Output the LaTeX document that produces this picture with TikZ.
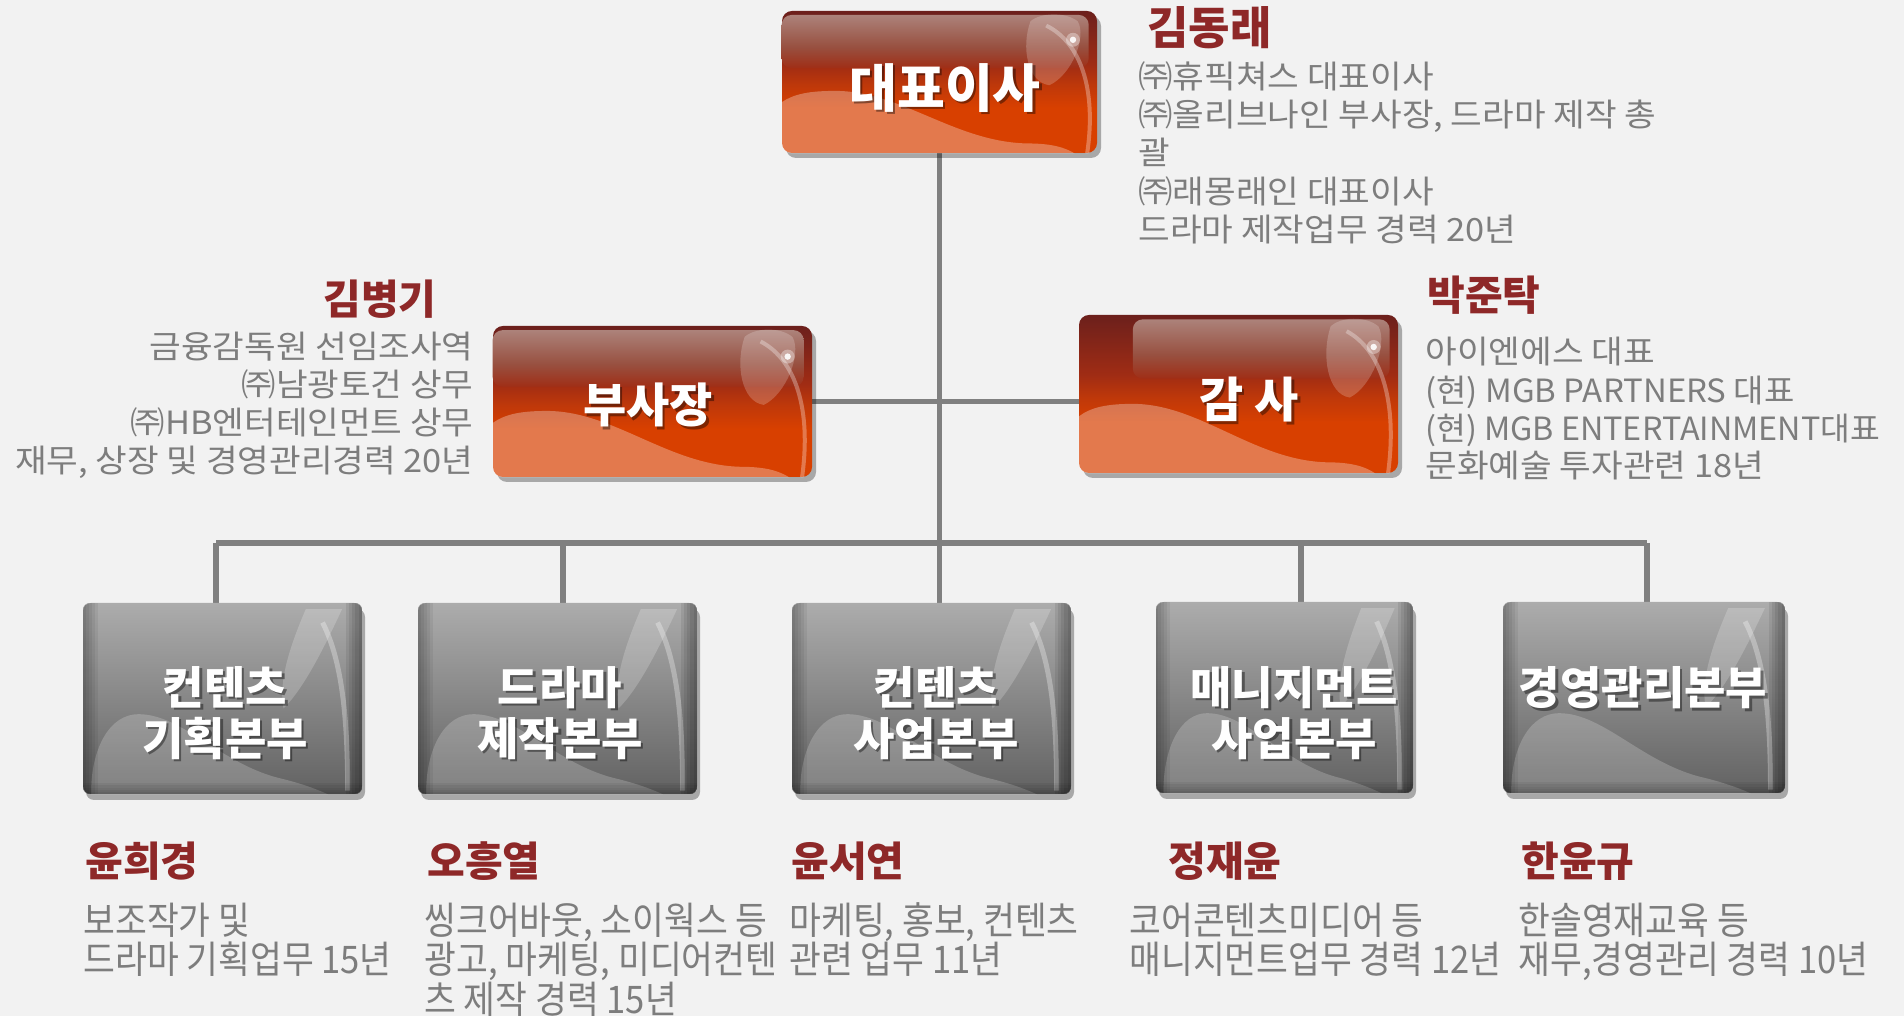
\documentclass[tikz,border=0pt]{standalone}
\usepackage{fontspec}
\usepackage{graphicx}
\setmainfont{Noto Sans CJK KR}
\usetikzlibrary{shadows,calc}

\definecolor{bgc}{RGB}{242,242,242}
\definecolor{connc}{RGB}{128,128,128}
\definecolor{namec}{RGB}{142,40,40}
\definecolor{descc}{RGB}{125,125,125}
\definecolor{rb0}{RGB}{216,64,0}
\definecolor{rb1}{RGB}{190,56,10}
\definecolor{rb2}{RGB}{160,44,20}
\definecolor{rb3}{RGB}{108,32,28}
\definecolor{gl0}{RGB}{160,46,22}
\definecolor{gl1}{RGB}{152,80,64}
\definecolor{gl2}{RGB}{172,130,122}
\definecolor{gb0}{RGB}{98,98,98}
\definecolor{gb1}{RGB}{135,135,135}
\definecolor{gb2}{RGB}{172,172,172}

\pgfdeclareverticalshading{redshade}{100bp}{color(0bp)=(rb0); color(25bp)=(rb0); color(41bp)=(rb0); color(49bp)=(rb1); color(56bp)=(rb2); color(75bp)=(rb3); color(100bp)=(rb3)}
\pgfdeclareverticalshading{glossshade}{100bp}{color(0bp)=(gl0); color(25bp)=(gl0); color(45bp)=(gl1); color(75bp)=(gl2); color(100bp)=(gl2)}
\pgfdeclareverticalshading{grayshade}{100bp}{color(0bp)=(gb0); color(25bp)=(gb0); color(50bp)=(gb1); color(75bp)=(gb2); color(100bp)=(gb2)}

\pgfdeclarelayer{bglayer}
\pgfsetlayers{bglayer,main}

\newcommand\hx[1]{\scalebox{1.075}[1]{#1}}
\newcommand\hb[1]{\scalebox{0.91}[1]{#1}}

% name, cx, cy, w, h, gloss start (fraction)
\newcommand\RedBox[6]{%
  \pgfmathsetmacro\bw{#4*0.5}\pgfmathsetmacro\bh{#5*0.5}%
  \node[redbox, minimum width=\bw pt, minimum height=\bh pt] (#1) at (#2,#3) {};
  \begin{scope}
    \clip[rounded corners=5pt] (#1.south west) rectangle (#1.north east);
    \begin{scope}[shift={(#1.south west)}, x=\bw pt, y=\bh pt]
      \shade[shading=glossshade, rounded corners=5pt] (#6,0.6) rectangle (0.975,0.975);
      \fill[white, fill opacity=0.3] (0,0) -- (0,0.36) .. controls (0.04,0.42) and (0.09,0.44) .. (0.17,0.44) .. controls (0.38,0.44) and (0.55,0.08) .. (0.78,0.07) .. controls (0.86,0.07) and (0.9,0.04) .. (0.93,0) -- cycle;
      \fill[white, fill opacity=0.2] (0.79,0.93) .. controls (0.76,0.75) and (0.78,0.5) .. (0.85,0.48) .. controls (0.92,0.55) and (0.97,0.82) .. (0.94,0.93) .. controls (0.9,1.0) and (0.82,0.99) .. cycle;
      \draw[white, opacity=0.3, line width=2pt] (0.84,0.9) .. controls (0.95,0.78) and (1.0,0.45) .. (0.97,0.0);
      \fill[white, opacity=0.35] (0.925,0.8) circle[radius=3.5pt];
      \fill[white, opacity=0.9] (0.925,0.8) circle[radius=1.6pt];
    \end{scope}
  \end{scope}}

% name, cx, cy, w, h
\newcommand\GrayBox[5]{%
  \pgfmathsetmacro\bw{#4*0.5}\pgfmathsetmacro\bh{#5*0.5}%
  \node[graybox, minimum width=\bw pt, minimum height=\bh pt] (#1) at (#2,#3) {};
  \begin{scope}
    \clip[rounded corners=4pt] (#1.south west) rectangle (#1.north east);
    \begin{scope}[shift={(#1.south west)}, x=\bw pt, y=\bh pt]
      \fill[white, fill opacity=0.2] (0.03,0) .. controls (0.03,0.25) and (0.1,0.42) .. (0.2,0.42) .. controls (0.36,0.42) and (0.5,0.15) .. (0.72,0.08) .. controls (0.8,0.05) and (0.85,0.02) .. (0.88,0) -- cycle;
      \fill[white, fill opacity=0.2] (0.8,0.97) .. controls (0.75,0.8) and (0.7,0.6) .. (0.72,0.45) .. controls (0.79,0.55) and (0.86,0.75) .. (0.93,0.97) -- cycle;
      \draw[white, opacity=0.3, line width=2.5pt] (0.86,0.9) .. controls (0.93,0.7) and (0.95,0.4) .. (0.95,0.02);
      \foreach \k in {1,...,5}{
        \fill[black, fill opacity=0.06] (0,0) rectangle (0.011*\k,1);
        \fill[black, fill opacity=0.08] (1-0.011*\k,0) rectangle (1,1);
        \fill[black, fill opacity=0.05] (0,0) rectangle (1,0.012*\k);
      }
    \end{scope}
  \end{scope}}

\newcommand\BoxText[6]{%
  \node[btxtsh, font=\bfseries\fontsize{#4pt}{#5pt}\selectfont] (#1s) at (#2+2.5,#3-2.5) {#6};
  \node[btxt, font=\bfseries\fontsize{#4pt}{#5pt}\selectfont] (#1) at (#2,#3) {#6};}

\begin{document}
\begin{tikzpicture}[x=0.5pt,y=0.5pt,
  conn/.style={draw=connc, line width=2.6pt},
  redbox/.style={rectangle, rounded corners=5pt, shade, shading=redshade, draw=none,
    drop shadow={shadow xshift=2pt, shadow yshift=-2.5pt, opacity=0.3, fill=black}},
  graybox/.style={rectangle, rounded corners=4pt, shade, shading=grayshade, draw=none,
    drop shadow={shadow xshift=1.5pt, shadow yshift=-3pt, opacity=0.3, fill=black}},
  btxt/.style={text=white, align=center, inner sep=0pt},
  btxtsh/.style={text=black, text opacity=0.4, align=center, inner sep=0pt},
  nm/.style={text=namec, font=\bfseries\fontsize{20.5pt}{22pt}\selectfont, inner sep=0pt},
  ds/.style={text=descc, font=\fontsize{16pt}{19pt}\selectfont, inner sep=0pt},
  bds/.style={text=descc, font=\fontsize{19pt}{20pt}\selectfont, inner sep=0pt, anchor=base west},
]
\useasboundingbox (0,0) rectangle (1904,1016);
\begin{pgfonlayer}{bglayer}
\fill[bgc] (0,0) rectangle (1904,1016);
\end{pgfonlayer}

% boxes
\RedBox{top}{939.5}{934}{315}{142}{0}
\RedBox{vp}{652.5}{614.5}{319}{151}{0}
\RedBox{aud}{1238.5}{622}{319}{158}{0.17}
\GrayBox{d1}{222.5}{317.5}{279}{191}
\GrayBox{d2}{557.5}{317.5}{279}{191}
\GrayBox{d3}{931.5}{317.5}{279}{191}
\GrayBox{d4}{1284.5}{318.5}{257}{191}
\GrayBox{d5}{1644}{318.5}{282}{191}

% connectors
\coordinate (b1) at (216,473);
\coordinate (b2) at (563,473);
\coordinate (b4) at (1301,473);
\coordinate (b5) at (1647,473);
\begin{pgfonlayer}{bglayer}
\draw[conn] (top.south) -- (top.south |- d3.north);
\draw[conn] (vp.east) -- (vp.east -| aud.west);
\draw[conn] (b1) -- (b5);
\draw[conn] (b1) -- (b1 |- d1.north);
\draw[conn] (b2) -- (b2 |- d2.north);
\draw[conn] (b4) -- (b4 |- d4.north);
\draw[conn] (b5) -- (b5 |- d5.north);
\end{pgfonlayer}

% box texts
\BoxText{t0}{945}{928}{26}{30}{대표이사}
\BoxText{t1}{648}{611}{23.5}{27}{부사장}
\BoxText{t2}{1249}{616}{24}{27}{감 사}
\BoxText{t3}{225}{303}{22.5}{25.5}{컨텐츠\\기획본부}
\BoxText{t4}{560}{303}{22.5}{25.5}{드라마\\제작본부}
\BoxText{t5}{936}{303}{22.5}{25.5}{컨텐츠\\사업본부}
\BoxText{t6}{1294}{303}{22.5}{25.5}{매니지먼트\\사업본부}
\BoxText{t7}{1643}{328}{22.5}{25.5}{경영관리본부}

% names
\node[nm, font=\bfseries\fontsize{22.5pt}{24pt}\selectfont, anchor=base west] (n0) at (1147,971) {김동래};
\node[nm, anchor=base east] (n1) at (437,701) {김병기};
\node[nm, anchor=base west] (n2) at (1427,705) {박준탁};
\node[nm, anchor=base west] (n3) at (85,139) {윤희경};
\node[nm, anchor=base west] (n4) at (427,139) {오흥열};
\node[nm, anchor=base west] (n5) at (791,139) {윤서연};
\node[nm, anchor=base west] (n6) at (1168,139) {정재윤};
\node[nm, anchor=base west] (n7) at (1521,139) {한윤규};

% CEO description
\node[ds, anchor=base west] (a1) at (1138,927) {\hx{㈜휴픽쳐스 대표이사}};
\node[ds, anchor=base west] (a2) at (1138,889) {\hx{㈜올리브나인 부사장, 드라마 제작 총}};
\node[ds, anchor=base west] (a3) at (1138,851) {\hx{괄}};
\node[ds, anchor=base west] (a4) at (1138,812) {\hx{㈜래몽래인 대표이사}};
\node[ds, anchor=base west] (a5) at (1138,774) {\hx{드라마 제작업무 경력 20년}};

% VP description
\node[ds, anchor=base east] (v1) at (474,657) {\hx{금융감독원 선임조사역}};
\node[ds, anchor=base east] (v2) at (474,619) {\hx{㈜남광토건 상무}};
\node[ds, anchor=base east] (v3) at (474,581) {\hx{㈜HB엔터테인먼트 상무}};
\node[ds, anchor=base east] (v4) at (474,543) {\hx{재무, 상장 및 경영관리경력 20년}};

% Auditor description
\node[ds, anchor=base west] (u1) at (1425,652) {\hx{아이엔에스 대표}};
\node[ds, anchor=base west] (u2) at (1425,613) {\scalebox{1.03}[1]{(현) MGB PARTNERS 대표}};
\node[ds, anchor=base west] (u3) at (1425,575) {\scalebox{1.01}[1]{(현) MGB ENTERTAINMENT대표}};
\node[ds, anchor=base west] (u4) at (1425,538) {\hx{문화예술 투자관련 18년}};

% bottom descriptions
\node[bds] (p1) at (83,81.5) {\hb{보조작가 및}};
\node[bds] (p2) at (83,42.5) {\hb{드라마 기획업무 15년}};
\node[bds] (q1) at (424,81.5) {\hb{씽크어바웃, 소이웍스 등}};
\node[bds] (q2) at (424,42.5) {\hb{광고, 마케팅, 미디어컨텐}};
\node[bds] (q3) at (424,2.5) {\hb{츠 제작 경력 15년}};
\node[bds] (r1) at (789,81.5) {\hb{마케팅, 홍보, 컨텐츠}};
\node[bds] (r2) at (789,42.5) {\hb{관련 업무 11년}};
\node[bds] (s1) at (1129,81.5) {\hb{코어콘텐츠미디어 등}};
\node[bds] (s2) at (1129,42.5) {\hb{매니지먼트업무 경력 12년}};
\node[bds] (w1) at (1518,81.5) {\hb{한솔영재교육 등}};
\node[bds] (w2) at (1518,42.5) {\hb{재무,경영관리 경력 10년}};
\end{tikzpicture}
\end{document}
